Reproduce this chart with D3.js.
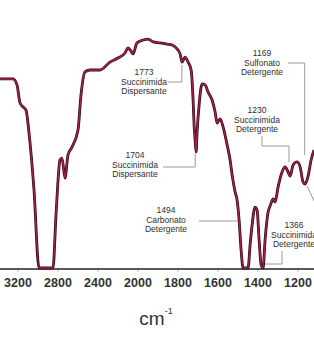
<!DOCTYPE html>
<html>
<head>
<meta charset="utf-8">
<script src="https://cdn.jsdelivr.net/npm/d3@7"></script>
<style>
  body { margin: 0; background: #fff; }
  svg { display: block; font-family: 'Liberation Sans', Arial, sans-serif; }
</style>
</head>
<body>
<div class="main"></div>
<script>
const w = 314, h = 344;

// spectrum (wavenumber in cm-1, transmittance in %)
const wavenumber = [3375, 3245, 3205, 3175, 3145, 3115, 3085, 3035, 2985, 2845, 2815, 2775, 2755, 2725, 2695,
  2655, 2595, 2565, 2525, 2475, 2375, 2275, 2195, 2125, 2095, 2065, 2045, 2005, 1972, 1947, 1922, 1887, 1852,
  1827, 1807, 1787, 1777, 1762, 1747, 1732, 1722, 1717, 1712, 1707, 1702, 1692, 1677, 1662, 1647, 1627, 1612,
  1602, 1587, 1572, 1552, 1537, 1527, 1512, 1502, 1492, 1482, 1472, 1447, 1437, 1427, 1412, 1402, 1392, 1382,
  1372, 1362, 1347, 1337, 1322, 1312, 1297, 1277, 1262, 1247, 1237, 1222, 1202, 1187, 1172, 1162, 1147, 1132, 1117];
const transmittance = [78.8, 78.8, 76.3, 68.8, 67.1, 65.8, 56.3, 32.5, 0, 0, 22.1, 45, 45.8, 37.5, 47.1,
  50.4, 57.5, 72.1, 81.7, 82.5, 82.5, 85.8, 87.5, 89.6, 91.7, 90.4, 89.2, 93.8, 95, 95.4, 94.2, 93.8, 93.3,
  92.9, 91.7, 89.2, 85.8, 87.9, 85.8, 82.5, 70, 59.6, 53.3, 48.3, 56.7, 67.9, 76.7, 76.3, 73.3, 70, 65,
  60.4, 62.1, 58.8, 51.3, 45, 38.8, 31.7, 28.3, 20, 7.5, 0, 0, 9.6, 17.9, 25.4, 24.2, 11.7, 1.3,
  0, 11.7, 23.3, 25.8, 28.8, 27.5, 33.8, 40, 42.1, 40, 38.3, 42.9, 44.2, 42.1, 35.8, 35, 38.3, 45, 49.2];

const tickValues = [3200, 2800, 2400, 2000, 1800, 1600, 1400, 1200];

// annotated bands
const bandWn = [1773, 1704, 1494, 1366, 1230, 1169];
const bandGroup = ['Succinimida', 'Succinimida', 'Carbonato', 'Succinimida', 'Succinimida', 'Sulfonato'];
const bandRole = ['Dispersante', 'Dispersante', 'Detergente', 'Detergente', 'Detergente', 'Detergente'];

// where each label sits and how its leader runs (px = x of the band)
const bandLayout = [
  { tx: 144, ty: 75, leader: px => [[168, 82], [px - 1, 82], [px - 1, 65]] },
  { tx: 135, ty: 158, leader: px => [[163, 167], [px - 1.5, 167], [px - 1.5, 154]] },
  { tx: 166, ty: 213, leader: px => [[199, 221], [px - 1, 221]] },
  { tx: 294, ty: 228, leader: px => [[282, 251], [282, 264], [px - 1, 264]] },
  { tx: 257, ty: 113, leader: px => [[262, 136], [262, 146], [px - 2.5, 146], [px - 2.5, 162]] },
  { tx: 262, ty: 56, leader: px => [[288, 63], [px + 1, 63], [px + 1, 155]] }
];

// wavenumber axis is stretched below 2000 cm-1
const x = d3.scaleLinear()
  .domain([3200, 2000, 1200])
  .range([17.5, 137.5, 297.5]);

const y = d3.scaleLinear()
  .domain([0, 100])
  .range([268, 28]);

const svg = d3.select('.main')
  .append('svg')
  .attr('width', w)
  .attr('height', h);

// leaders first, under the curve
const annot = svg.append('g').attr('class', 'annotations');

bandWn.forEach((wn, i) => {
  const lay = bandLayout[i];
  annot.append('polyline')
    .attr('points', lay.leader(x(wn)).map(p => p.join(',')).join(' '))
    .attr('fill', 'none')
    .attr('stroke', '#9a9a9a')
    .attr('stroke-width', 1);

  const t = annot.append('text')
    .attr('text-anchor', 'middle')
    .attr('font-size', 8.5)
    .attr('fill', '#2e2e2e');
  [String(wn), bandGroup[i], bandRole[i]].forEach((s, k) => {
    t.append('tspan')
      .attr('x', lay.tx)
      .attr('y', lay.ty + k * 9.5)
      .text(s);
  });
});

// leader of a label that falls outside the frame
annot.append('line')
  .attr('x1', 307).attr('y1', 186)
  .attr('x2', 317).attr('y2', 207)
  .attr('stroke', '#9a9a9a')
  .attr('stroke-width', 1);

// axis
const axis = d3.axisBottom(x)
  .tickValues(tickValues)
  .tickSize(3)
  .tickPadding(6)
  .tickFormat(d => d);

const gx = svg.append('g')
  .attr('transform', 'translate(0, 269)')
  .call(axis);

gx.select('.domain').remove();
gx.selectAll('.tick line').attr('stroke', '#bbb');
gx.selectAll('.tick text')
  .attr('font-size', 12.5)
  .attr('font-weight', 'bold')
  .attr('font-family', "'Liberation Sans', Arial, sans-serif")
  .attr('fill', '#333');

gx.append('line')
  .attr('x1', 0)
  .attr('x2', w)
  .attr('stroke', '#222')
  .attr('stroke-width', 1.3);

// spectrum
const line = d3.line()
  .x((d, i) => x(wavenumber[i]))
  .y(d => y(d))
  .curve(d3.curveMonotoneX);

svg.append('path')
  .datum(transmittance)
  .attr('d', line)
  .attr('fill', 'none')
  .attr('stroke', '#2c0610')
  .attr('stroke-width', 2.8)
  .attr('stroke-linejoin', 'round');

svg.append('path')
  .datum(transmittance)
  .attr('d', line)
  .attr('fill', 'none')
  .attr('stroke', '#a02446')
  .attr('stroke-width', 1.5)
  .attr('stroke-linejoin', 'round');

// unit label
const unit = svg.append('text')
  .attr('x', 156)
  .attr('y', 325)
  .attr('text-anchor', 'middle')
  .attr('font-size', 19)
  .attr('fill', '#333');
unit.append('tspan').text('cm');
unit.append('tspan')
  .attr('font-size', 9)
  .attr('dy', -11)
  .text('-1');
</script>
</body>
</html>
